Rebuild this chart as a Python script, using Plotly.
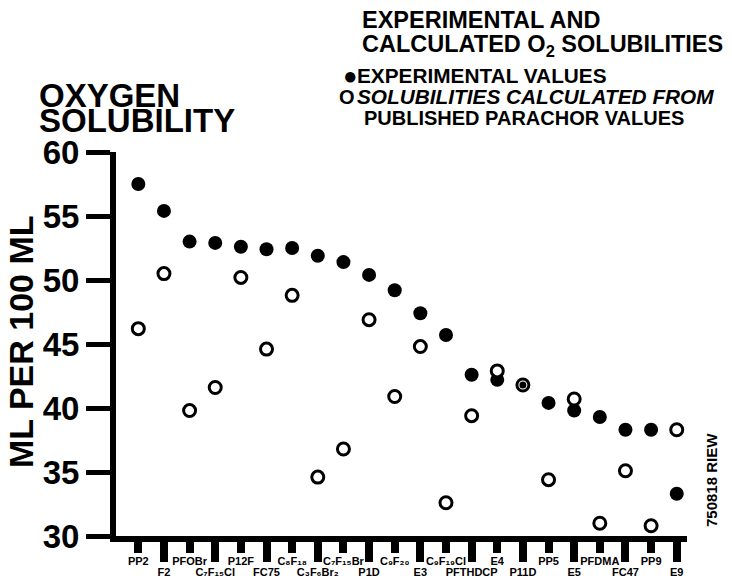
import plotly.graph_objects as go

# ---------------- data ----------------
compounds = ["PP2", "F2", "PFOBr", "C7F15Cl", "P12F", "FC75", "C8F18", "C3F6Br2",
             "C7F15Br", "P1D", "C9F20", "E3", "C9F19Cl", "PFTHDCP", "E4", "P11D",
             "PP5", "E5", "PFDMA", "FC47", "PP9", "E9"]
tick_labels = ["PP2", "F2", "PFOBr", "C₇F₁₅Cl", "P12F", "FC75", "C₈F₁₈", "C₃F₆Br₂",
               "C₇F₁₅Br", "P1D", "C₉F₂₀", "E3", "C₉F₁₉Cl", "PFTHDCP", "E4", "P11D",
               "PP5", "E5", "PFDMA", "FC47", "PP9", "E9"]
experimental = [57.5, 55.4, 53.0, 52.9, 52.6, 52.4, 52.5, 51.9, 51.4, 50.4, 49.2,
                47.4, 45.7, 42.6, 42.2, 41.8, 40.4, 39.8, 39.3, 38.3, 38.3, 33.3]
calculated = [46.2, 50.5, 39.8, 41.6, 50.2, 44.6, 48.8, 34.6, 36.8, 46.9, 40.9,
              44.8, 32.6, 39.4, 42.9, 41.8, 34.4, 40.7, 31.0, 35.1, 30.8, 38.3]
y_ticks = [30, 35, 40, 45, 50, 55, 60]

# ---------------- figure ----------------
W, H = 732, 581
ML, MR, MT, MB = 116, 45, 152, 45
FONT = "Liberation Sans, Arial, sans-serif"

idx = list(range(len(compounds)))
even = idx[0::2]
odd = idx[1::2]
coincide = [abs(e - c) < 0.3 for e, c in zip(experimental, calculated)]

fig = go.Figure()
fig.add_trace(go.Scatter(
    x=idx, y=experimental, mode="markers", name="Experimental values",
    marker=dict(symbol="circle", color="black", opacity=1,
                size=[7 if c else 14 for c in coincide], line=dict(width=0)),
    hovertext=compounds, showlegend=False, xaxis="x", yaxis="y"))
fig.add_trace(go.Scatter(
    x=idx, y=calculated, mode="markers",
    name="Solubilities calculated from published parachor values",
    marker=dict(symbol="circle", opacity=1,
                color=["rgba(0,0,0,0)" if c else "white" for c in coincide],
                size=12, line=dict(width=3, color="black")),
    hovertext=compounds, showlegend=False, xaxis="x2", yaxis="y"))

xr = [-0.87, 21.40]
tickfont = dict(family=FONT, size=11, color="black", weight="bold")

fig.update_layout(
    width=W, height=H,
    margin=dict(l=ML, r=MR, t=MT, b=MB),
    paper_bgcolor="white", plot_bgcolor="white",
    font=dict(family=FONT, color="black"),
    xaxis=dict(range=xr, tickmode="array", tickvals=even,
               ticktext=[tick_labels[i] for i in even],
               ticks="outside", ticklen=11, tickwidth=8, tickcolor="black",
               ticklabelstandoff=-1,
               showline=True, linewidth=6, linecolor="black", automargin=False,
               showgrid=False, zeroline=False, tickfont=tickfont, tickangle=0),
    xaxis2=dict(range=xr, overlaying="x", side="bottom", anchor="y",
                tickmode="array", tickvals=odd,
                ticktext=[tick_labels[i] for i in odd],
                ticks="outside", ticklen=25, tickwidth=8, tickcolor="black",
                ticklabelstandoff=1, automargin=False,
                showline=False, showgrid=False, zeroline=False,
                tickfont=tickfont, tickangle=0),
    yaxis=dict(range=[30, 60], tickmode="array", tickvals=y_ticks,
               ticks="outside", ticklen=24, tickwidth=5, tickcolor="black",
               showline=True, linewidth=6, linecolor="black", automargin=False,
               showgrid=False, zeroline=False,
               tickfont=dict(family=FONT, size=33, color="black", weight="bold")),
)

pw, ph = W - ML - MR, H - MT - MB


def P(px, py):
    return (px - ML) / pw, (H - MB - py) / ph


def note(text, px, py, size, xanchor="left", angle=0, italic=False):
    x, y = P(px, py)
    fig.add_annotation(text=text, x=x, y=y, xref="paper", yref="paper",
                       xanchor=xanchor, yanchor="middle", showarrow=False,
                       textangle=angle, borderpad=0,
                       font=dict(family=FONT, size=size, color="black",
                                 weight="bold",
                                 style="italic" if italic else "normal"))


note("OXYGEN", 38, 95, 33)
note("SOLUBILITY", 38, 120, 33)
note("EXPERIMENTAL AND", 361, 20, 23.5)
note("CALCULATED O<sub>2</sub> SOLUBILITIES", 361, 46, 23.5)
note("●", 350, 76, 24, xanchor="center")
note("EXPERIMENTAL VALUES", 356, 76, 20.8)
note("O", 347, 97, 20, xanchor="center")
note("SOLUBILITIES CALCULATED FROM", 356, 97, 20.8, italic=True)
note("PUBLISHED PARACHOR VALUES", 363, 118, 20)
note("ML PER 100 ML", 21, 342, 34, xanchor="center", angle=-90)
note("750818 RIEW", 711, 480, 15, xanchor="center", angle=-90)

fig.write_html("out.html", config={"displayModeBar": False},
               post_script="document.body.style.margin='0px';")
